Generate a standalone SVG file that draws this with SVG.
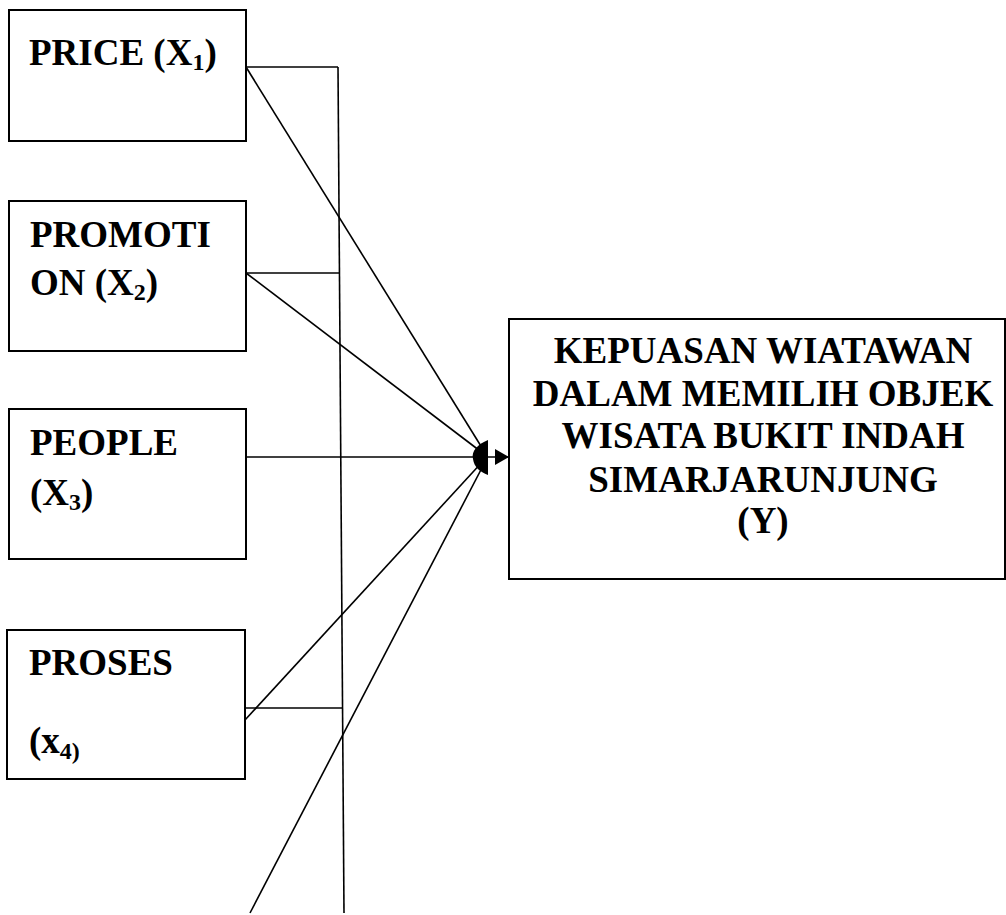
<svg xmlns="http://www.w3.org/2000/svg" width="1006" height="915" viewBox="0 0 1006 915">
<style>
.box{fill:#fff;stroke:#000;stroke-width:2}
.t{font-family:"Liberation Serif","Times New Roman",serif;font-weight:bold;font-size:37px;fill:#000}
.sub{font-size:24px}
.ln{stroke:#000;stroke-width:1.6;fill:none}
</style>
<defs>
<marker id="ah" markerWidth="14" markerHeight="16" refX="14" refY="8" orient="auto" markerUnits="userSpaceOnUse">
<path d="M0,0 L14,8 L0,16 Z" fill="#000"/>
</marker>
</defs>
<rect width="1006" height="915" fill="#fff"/>
<g id="connectors">
<line class="ln" x1="338" y1="67" x2="344" y2="913"/>
<line class="ln" x1="246" y1="67" x2="338" y2="67"/>
<line class="ln" x1="246" y1="67" x2="484" y2="451"/>
<line class="ln" x1="246" y1="273" x2="339" y2="273"/>
<line class="ln" x1="246" y1="273" x2="484" y2="454"/>
<line class="ln" x1="244" y1="457" x2="509" y2="457" marker-end="url(#ah)"/>
<line class="ln" x1="245" y1="708" x2="342" y2="708"/>
<line class="ln" x1="245" y1="720" x2="484" y2="460"/>
<line class="ln" x1="250" y1="913" x2="485" y2="462"/>
<path d="M488,440 C478,444 471,451 473,459 C474,467 480,472 488,475 Z" fill="#000"/>
</g>
<g id="price">
<rect class="box" x="9" y="10" width="237" height="131"/>
<text class="t" x="29" y="65">PRICE (X<tspan class="sub" dy="5">1</tspan><tspan dy="-5">)</tspan></text>
</g>
<g id="promotion">
<rect class="box" x="9" y="201" width="237" height="150"/>
<text class="t" x="30" y="247">PROMOTI</text>
<text class="t" x="30" y="295">ON (X<tspan class="sub" dy="5">2</tspan><tspan dy="-5">)</tspan></text>
</g>
<g id="people">
<rect class="box" x="9" y="409" width="237" height="150"/>
<text class="t" x="30" y="455">PEOPLE</text>
<text class="t" x="30" y="505">(X<tspan class="sub" dy="5">3</tspan><tspan dy="-5">)</tspan></text>
</g>
<g id="proses">
<rect class="box" x="7" y="630" width="238" height="149"/>
<text class="t" x="29" y="675">PROSES</text>
<text class="t" x="29" y="753">(x<tspan class="sub" dy="6">4)</tspan></text>
</g>
<g id="kepuasan">
<rect class="box" x="509" y="319" width="496" height="260"/>
<text class="t" text-anchor="middle" x="763" y="363">KEPUASAN WIATAWAN</text>
<text class="t" text-anchor="middle" x="763" y="406">DALAM MEMILIH OBJEK</text>
<text class="t" text-anchor="middle" x="763" y="448">WISATA BUKIT INDAH</text>
<text class="t" text-anchor="middle" x="763" y="492">SIMARJARUNJUNG</text>
<text class="t" text-anchor="middle" x="763" y="533">(Y)</text>
</g>
</svg>
